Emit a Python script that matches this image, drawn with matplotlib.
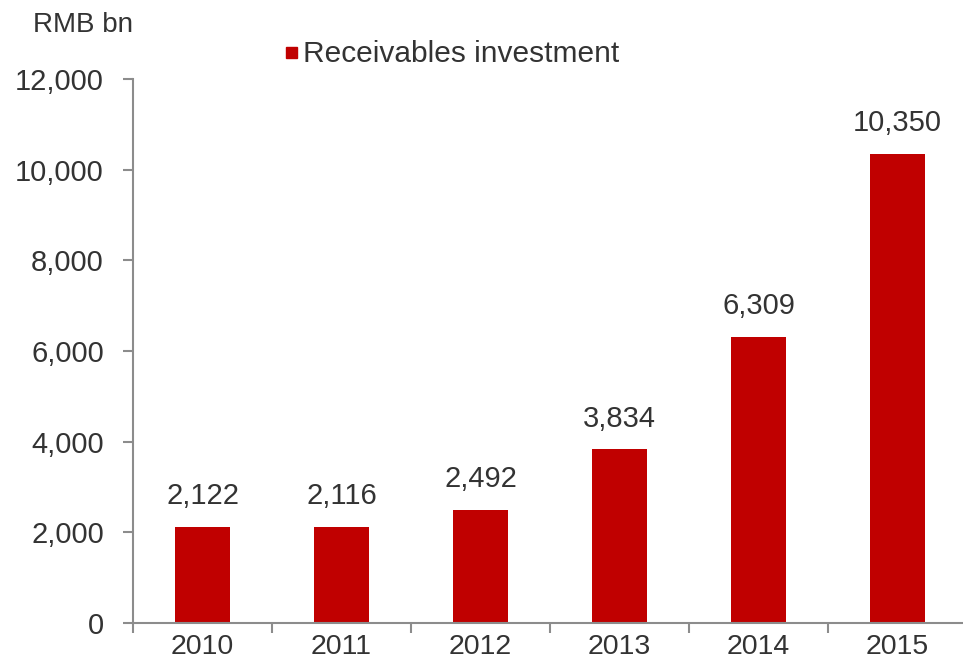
import matplotlib
matplotlib.use("Agg")
import matplotlib.pyplot as plt
from matplotlib.ticker import FuncFormatter, FixedLocator
from matplotlib.patches import Rectangle

plt.rcParams['font.family'] = ['Liberation Sans', 'DejaVu Sans']

years = ['2010', '2011', '2012', '2013', '2014', '2015']
receivables = [2122, 2116, 2492, 3834, 6309, 10350]
y_ticks = [0, 2000, 4000, 6000, 8000, 10000, 12000]

bar_color = '#C00000'
text_color = '#333333'
axis_color = '#8C8C8C'

fig = plt.figure(figsize=(9.63, 6.66), dpi=100)
ax = fig.add_axes([133 / 963, 43 / 666, 834 / 963, 544 / 666])

x = list(range(len(years)))
ax.bar(x, receivables, width=0.40, color=bar_color, zorder=2)

for xi, v in zip(x, receivables):
    ax.annotate(f'{v:,}', (xi, v), xytext=(0, 12), textcoords='offset points',
                ha='center', va='bottom', fontsize=21, color=text_color)

ax.set_xlim(-0.5, len(years) - 0.5)
ax.set_ylim(0, 12000)
ax.set_yticks(y_ticks)
ax.yaxis.set_major_formatter(FuncFormatter(lambda v, p: f'{int(v):,}'))

ax.set_xticks(x)
ax.set_xticklabels(years)
ax.xaxis.set_minor_locator(FixedLocator([i - 0.5 for i in x]))
ax.tick_params(axis='x', which='major', length=0, pad=8, labelsize=20.5, labelcolor=text_color)
ax.tick_params(axis='x', which='minor', length=7, width=1.5, color=axis_color, direction='out')
ax.tick_params(axis='y', length=7, width=1.5, color=axis_color, pad=14, labelsize=21,
               labelcolor=text_color)

for s in ['top', 'right']:
    ax.spines[s].set_visible(False)
for s in ['left', 'bottom']:
    ax.spines[s].set_color(axis_color)
    ax.spines[s].set_linewidth(1.5)

fig.text(33 / 963, 1 - 25 / 666, 'RMB bn', fontsize=20, color=text_color, va='center', ha='left')

# legend entry
fig.patches.append(Rectangle((286 / 963, 1 - 58 / 666), 11 / 963, 11 / 666,
                             transform=fig.transFigure, color=bar_color, figure=fig))
fig.text(303 / 963, 1 - 54 / 666, 'Receivables investment', fontsize=21.5, color=text_color,
         va='center', ha='left')

fig.savefig('out.png', dpi=100)
